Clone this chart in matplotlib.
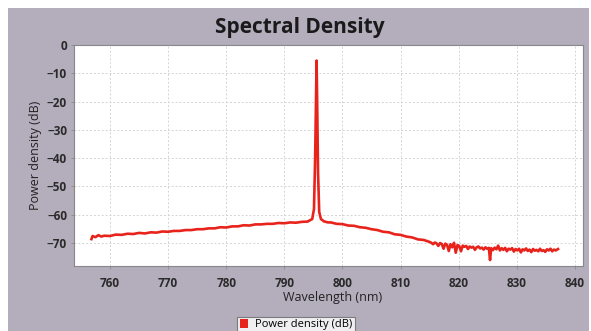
import matplotlib
matplotlib.use("Agg")
import matplotlib.pyplot as plt
from matplotlib.patches import Rectangle, Patch

# ---- data ----
wavelength_nm = [
    756.8, 757.0, 757.5, 758, 758.5, 759, 760, 761, 762, 763, 764, 765, 766,
    767, 768, 769, 770, 771, 772, 773, 774, 775, 776, 777, 778, 779, 780, 781,
    782, 783, 784, 785, 786, 787, 788, 789, 790, 791, 792, 793, 794,
    794.8, 795.1, 795.3, 795.45, 795.55, 795.65, 795.8, 796.0, 796.3,
    796.8, 797.5, 798, 799, 800, 801, 802, 803, 804, 805, 806, 807, 808, 809,
    810, 811, 812, 813, 814,
    815.0, 815.3, 815.6, 815.9, 816.2, 816.5, 816.8, 817.1, 817.4, 817.7,
    818.0, 818.3, 818.6, 818.9, 819.2, 819.5, 819.8, 820.1, 820.4, 820.7,
    821.0, 821.3, 821.6, 821.9, 822.2, 822.5, 822.8, 823.1, 823.4, 823.7,
    824.0, 824.3, 824.6, 824.9, 825.2, 825.4, 825.6, 825.9, 826.2, 826.5,
    826.8, 827.1, 827.4, 827.7, 828.0, 828.3, 828.6, 828.9, 829.2, 829.5,
    829.8, 830.1, 830.4, 830.7, 831.0, 831.3, 831.6, 831.9, 832.2, 832.5,
    832.8, 833.1, 833.4, 833.7, 834.0, 834.3, 834.6, 834.9, 835.2, 835.5,
    835.8, 836.1, 836.4, 836.7, 837.1,
]
power_db = [
    -68.6, -67.5, -67.9, -67.2, -67.7, -67.4, -67.5, -67.0, -67.1, -66.7,
    -66.8, -66.4, -66.6, -66.2, -66.3, -65.9, -66.0, -65.7, -65.7, -65.4,
    -65.4, -65.1, -65.1, -64.8, -64.8, -64.4, -64.5, -64.1, -64.1, -63.7,
    -63.8, -63.4, -63.4, -63.2, -63.2, -62.9, -63.0, -62.7, -62.8, -62.5,
    -62.4,
    -61.5, -58.0, -40.0, -20.0, -5.5, -20.0, -45.0, -59.0, -61.5,
    -62.3, -62.7, -62.7, -63.2, -63.3, -63.8, -63.9, -64.4, -64.6, -65.1,
    -65.4, -66.0, -66.2, -66.9, -67.1, -67.7, -68.0, -68.7, -68.9,
    -69.6, -69.9, -70.4, -69.8, -70.1, -71.0, -70.0, -70.3, -72.0, -70.2,
    -70.6, -72.8, -70.4, -71.5, -69.9, -73.4, -70.7, -71.0, -72.9, -70.9,
    -71.3, -71.0, -72.1, -71.2, -71.6, -71.3, -72.4, -71.5, -71.2, -71.9,
    -71.6, -72.3, -71.5, -72.0, -71.7, -76.0, -71.8, -72.5, -71.6, -72.2,
    -70.9, -72.6, -71.8, -72.4, -71.7, -72.9, -72.0, -72.3, -71.8, -73.0,
    -72.1, -72.6, -72.0, -73.3, -72.2, -72.6, -71.9, -72.8, -72.3, -73.2,
    -72.1, -72.7, -72.4, -72.9, -72.0, -72.8, -72.5, -73.1, -72.2, -72.6,
    -72.0, -72.9, -72.3, -72.6, -72.1,
]
x_ticks = [760, 770, 780, 790, 800, 810, 820, 830, 840]
y_ticks = [0, -10, -20, -30, -40, -50, -60, -70]
title = "Spectral Density"
x_label = "Wavelength (nm)"
y_label = "Power density (dB)"
series_name = "Power density (dB)"

# ---- figure ----
W, H = 591, 331
fig = plt.figure(figsize=(W / 100, H / 100), dpi=100, facecolor="white")
plt.rcParams["font.family"] = ["Open Sans", "DejaVu Sans"]

bg = "#b4adbc"
fig.patches.append(Rectangle((8 / W, 0), (589 - 8) / W, 1 - 8 / H,
                             transform=fig.transFigure, facecolor=bg,
                             edgecolor="none", zorder=-10))

ax = fig.add_axes([74 / W, 1 - 266 / H, (583 - 74) / W, (266 - 45) / H])
ax.set_facecolor("white")
ax.plot(wavelength_nm, power_db, color="#e8231c", linewidth=1.9, zorder=3)
ax.set_xlim(753.8, 841.4)
ax.set_ylim(-78.1, 0)
ax.set_xticks(x_ticks)
ax.set_yticks(y_ticks)
ax.grid(True, color="#d4d4d4", linestyle=(0, (2, 2)), linewidth=0.7)
for s in ax.spines.values():
    s.set_color("#888888")
    s.set_linewidth(0.8)
ax.tick_params(axis="both", length=2, width=0.6, color="#888888",
               labelsize=8.5, labelcolor="#2a2a2a", pad=3)
for lab in ax.get_xticklabels() + ax.get_yticklabels():
    lab.set_fontweight("bold")
ax.tick_params(axis="x", pad=6)

fig.text(300 / W, 1 - 27 / H, title, ha="center", va="center",
         fontsize=15, fontweight="bold", color="#1a1a1a")
fig.text(333 / W, 1 - 297 / H, x_label, ha="center", va="center",
         fontsize=9, color="#222222")
fig.text(35 / W, 1 - 155 / H, y_label, ha="center", va="center",
         rotation=90, fontsize=9, color="#222222")

leg = fig.legend(handles=[Patch(facecolor="#e8231c", edgecolor="none",
                                label=series_name)],
                 loc="upper center", bbox_to_anchor=(296 / W, 1 - 311 / H),
                 fontsize=8, frameon=True, fancybox=False, handlelength=0.8,
                 handleheight=0.8, handletextpad=0.6, borderpad=0.25)
leg.get_frame().set_facecolor("white")
leg.get_frame().set_edgecolor("#666666")
leg.get_frame().set_linewidth(0.8)

fig.savefig("out.png", dpi=100, facecolor=fig.get_facecolor())
